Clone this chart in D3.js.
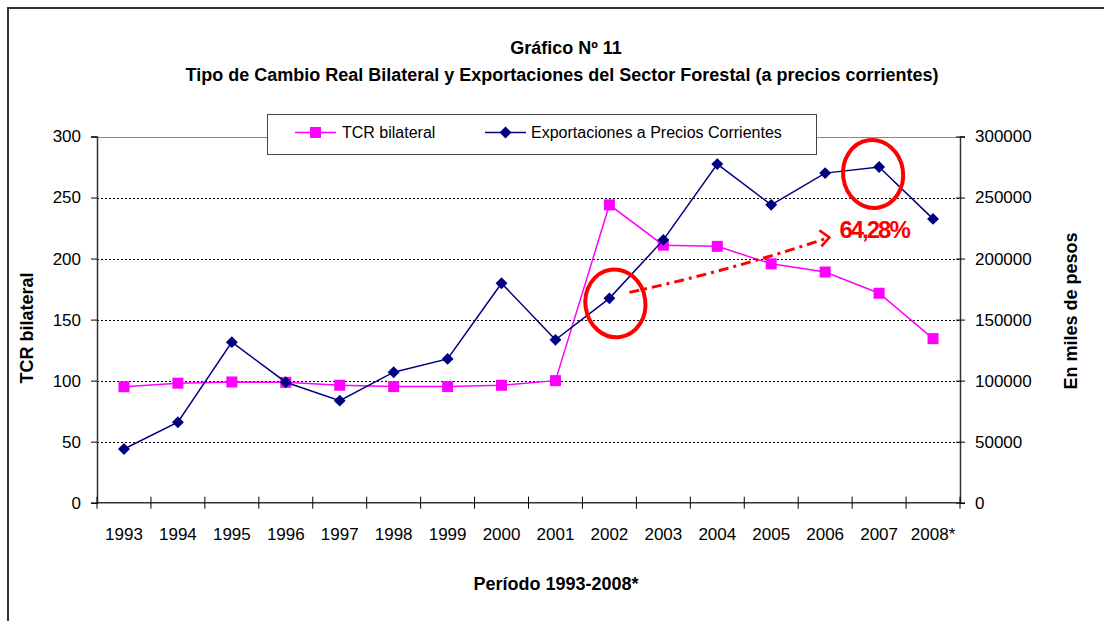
<!DOCTYPE html>
<html>
<head>
<meta charset="utf-8">
<script src="https://cdn.jsdelivr.net/npm/d3@7"></script>
<style>
  html, body { margin: 0; padding: 0; background: #fff; }
  svg { display: block; font-family: "Liberation Sans", Arial, sans-serif; }
</style>
</head>
<body>
<div id="chart"></div>
<script>
var years = ["1993", "1994", "1995", "1996", "1997", "1998", "1999", "2000",
             "2001", "2002", "2003", "2004", "2005", "2006", "2007", "2008*"];
var tcr = [95, 97.9, 98.9, 98.6, 96.2, 95.1, 95.1, 96.2,
           100, 244, 211, 210, 195.7, 189, 171.6, 134.4];
var exportaciones = [44000, 65900, 131500, 98700, 83600, 106900, 117800, 179800,
                     133400, 167400, 215300, 277400, 244000, 270000, 275000, 232500];
var leftTicks = [0, 50, 100, 150, 200, 250, 300];
var rightTicks = [0, 50000, 100000, 150000, 200000, 250000, 300000];
var cambio = "64,28%";

var width = 1104, height = 621;
var plotL = 97, plotR = 960, plotT = 136.5, plotB = 502.7;

var svg = d3.select("#chart").append("svg")
    .attr("width", width)
    .attr("height", height);

// outer frame
svg.append("path")
    .attr("d", "M8," + height + "V8H" + width)
    .attr("fill", "none")
    .attr("stroke", "#333")
    .attr("stroke-width", 2);

var x = d3.scaleBand().domain(years).range([plotL, plotR]);
var yL = d3.scaleLinear().domain([0, 300]).range([plotB, plotT]);
var yR = d3.scaleLinear().domain([0, 300000]).range([plotB, plotT]);

// titles
svg.append("text")
    .attr("x", 566).attr("y", 54)
    .attr("text-anchor", "middle")
    .style("font-size", "18px").style("font-weight", "bold")
    .text("Gráfico Nº 11");
svg.append("text")
    .attr("x", 562).attr("y", 81)
    .attr("text-anchor", "middle")
    .style("font-size", "18px").style("font-weight", "bold")
    .text("Tipo de Cambio Real Bilateral y Exportaciones del Sector Forestal (a precios corrientes)");

// grid
var grid = svg.append("g");
leftTicks.slice(1, -1).forEach(function(t) {
    grid.append("line")
        .attr("x1", plotL).attr("x2", plotR)
        .attr("y1", Math.round(yL(t)) + 0.5).attr("y2", Math.round(yL(t)) + 0.5)
        .attr("stroke", "#000")
        .attr("stroke-dasharray", "2,2");
});
grid.append("line")
    .attr("x1", plotL).attr("x2", plotR)
    .attr("y1", Math.round(yL(300)) + 0.5).attr("y2", Math.round(yL(300)) + 0.5)
    .attr("stroke", "#888");

// axes
var axisL = d3.axisLeft(yL).tickValues(leftTicks).tickSize(6).tickPadding(10);
var axisR = d3.axisRight(yR).tickValues(rightTicks).tickFormat(d3.format("d")).tickSize(5).tickPadding(10);
var axisB = d3.axisBottom(x).tickSize(0).tickPadding(25);

function styleAxis(g) {
    g.select(".domain").attr("stroke", "#333").attr("stroke-width", 1.5);
    g.selectAll(".tick line").attr("stroke", "#000");
    g.selectAll(".tick text").style("font-size", "17px").style("font-family", "Liberation Sans, Arial, sans-serif").attr("fill", "#000");
}

svg.append("g").attr("transform", "translate(" + plotL + ",0)").call(axisL).call(styleAxis);
var gR = svg.append("g").attr("transform", "translate(" + plotR + ",0)").call(axisR).call(styleAxis);
gR.selectAll(".tick line").attr("x1", -4);
var gB = svg.append("g").attr("transform", "translate(0," + plotB + ")").call(axisB).call(styleAxis);
gB.select(".domain").attr("d", "M" + plotL + ",0H" + plotR);

// category boundary ticks on x axis
years.concat([null]).forEach(function(d, i) {
    var xx = plotL + x.step() * i;
    gB.append("line")
        .attr("x1", xx).attr("x2", xx)
        .attr("y1", -6).attr("y2", 6)
        .attr("stroke", "#000");
});

// axis titles
svg.append("text")
    .attr("transform", "translate(33,328) rotate(-90)")
    .attr("text-anchor", "middle")
    .style("font-size", "18px").style("font-weight", "bold")
    .text("TCR bilateral");
svg.append("text")
    .attr("transform", "translate(1077,311) rotate(-90)")
    .attr("text-anchor", "middle")
    .style("font-size", "18px").style("font-weight", "bold")
    .text("En miles de pesos");
svg.append("text")
    .attr("x", 556).attr("y", 590)
    .attr("text-anchor", "middle")
    .style("font-size", "18px").style("font-weight", "bold")
    .text("Período 1993-2008*");

var cx = function(d, i) { return x(years[i]) + x.bandwidth() / 2; };

// TCR series
svg.append("path")
    .datum(tcr)
    .attr("fill", "none")
    .attr("stroke", "#ff00ff")
    .attr("stroke-width", 1.5)
    .attr("d", d3.line().x(cx).y(function(d) { return yL(d); }));
svg.append("g").selectAll("rect")
    .data(tcr).join("rect")
    .attr("x", function(d, i) { return cx(d, i) - 5.5; })
    .attr("y", function(d) { return yL(d) - 5.5; })
    .attr("width", 11).attr("height", 11)
    .attr("fill", "#ff00ff");

// exports series
svg.append("path")
    .datum(exportaciones)
    .attr("fill", "none")
    .attr("stroke", "#000080")
    .attr("stroke-width", 1.5)
    .attr("d", d3.line().x(cx).y(function(d) { return yR(d); }));
var diamond = d3.symbol().type(d3.symbolDiamond2).size(90);
svg.append("g").selectAll("path")
    .data(exportaciones).join("path")
    .attr("transform", function(d, i) { return "translate(" + cx(d, i) + "," + yR(d) + ")"; })
    .attr("d", diamond)
    .attr("fill", "#000080");

// legend
var legend = svg.append("g");
legend.append("rect")
    .attr("x", 267.5).attr("y", 114.5)
    .attr("width", 549).attr("height", 40)
    .attr("fill", "#fff")
    .attr("stroke", "#444");
legend.append("line")
    .attr("x1", 295).attr("x2", 336).attr("y1", 132.5).attr("y2", 132.5)
    .attr("stroke", "#ff00ff").attr("stroke-width", 1.5);
legend.append("rect")
    .attr("x", 310).attr("y", 127).attr("width", 11).attr("height", 11)
    .attr("fill", "#ff00ff");
legend.append("text")
    .attr("x", 342).attr("y", 138)
    .style("font-size", "16px")
    .text("TCR bilateral");
legend.append("line")
    .attr("x1", 485).attr("x2", 526).attr("y1", 132.5).attr("y2", 132.5)
    .attr("stroke", "#000080").attr("stroke-width", 1.5);
legend.append("path")
    .attr("transform", "translate(505.5,132.5)")
    .attr("d", diamond)
    .attr("fill", "#000080");
legend.append("text")
    .attr("x", 531).attr("y", 138)
    .style("font-size", "16px")
    .text("Exportaciones a Precios Corrientes");

// annotation
var i02 = years.indexOf("2002"), i07 = years.indexOf("2007");
var p02 = [cx(0, i02), yR(exportaciones[i02])];
var p07 = [cx(0, i07), yR(exportaciones[i07])];
var note = svg.append("g").attr("stroke", "#ff0000").attr("fill", "none");
note.append("ellipse")
    .attr("cx", p02[0] + 6).attr("cy", p02[1] + 5)
    .attr("rx", 30).attr("ry", 34)
    .attr("transform", "rotate(-8," + (p02[0] + 6) + "," + (p02[1] + 5) + ")")
    .attr("stroke-width", 4);
note.append("ellipse")
    .attr("cx", p07[0] - 6).attr("cy", p07[1] + 7)
    .attr("rx", 30).attr("ry", 34)
    .attr("transform", "rotate(-8," + (p07[0] - 6) + "," + (p07[1] + 7) + ")")
    .attr("stroke-width", 4);
var a0 = [p02[0] + 20, p02[1] - 6], a1 = [p02[0] + 220, p02[1] - 61];
note.append("path")
    .attr("d", "M" + a0 + "Q" + [(a0[0] + a1[0]) / 2, (a0[1] + a1[1]) / 2 + 6] + " " + a1)
    .attr("stroke-width", 3)
    .attr("stroke-dasharray", "10,5,3,5");
note.append("path")
    .attr("d", "M" + [a1[0] - 10, a1[1] - 7] + "L" + a1 + "L" + [a1[0] - 8, a1[1] + 9])
    .attr("stroke-width", 2.5);
svg.append("text")
    .attr("x", a1[0] + 10).attr("y", a1[1] + 1)
    .attr("fill", "#ff0000")
    .style("font-size", "24px").style("font-weight", "bold")
    .style("letter-spacing", "-2px")
    .text(cambio);
</script>
</body>
</html>
